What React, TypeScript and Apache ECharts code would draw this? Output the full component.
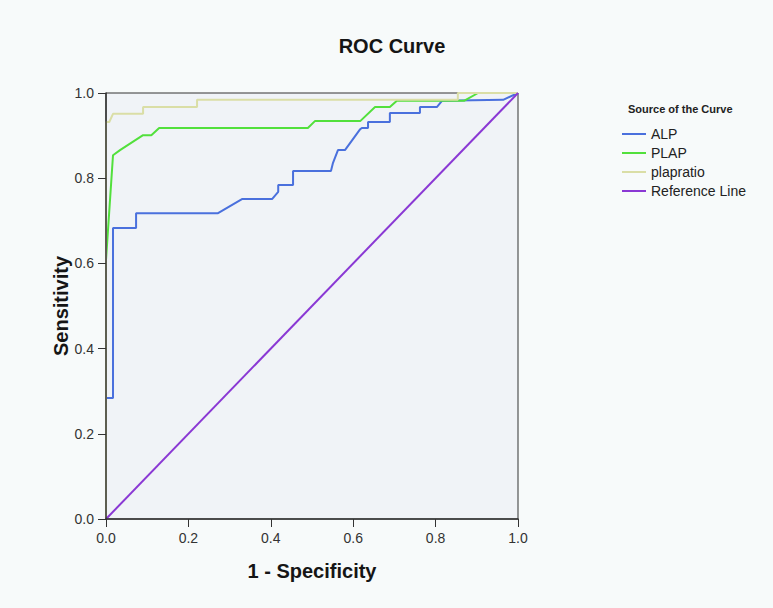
import React, { useEffect, useRef } from "react";
import * as echarts from "echarts";

const seriesNames = ["ALP", "PLAP", "plapratio", "Reference Line"];
const seriesColors = ["#4a70dd", "#52e03c", "#dadea6", "#8a38d4"];

const alp = [
  [0, 0], [0, 0.284], [0.017, 0.284], [0.017, 0.683], [0.073, 0.683], [0.073, 0.718],
  [0.272, 0.718], [0.33, 0.751], [0.403, 0.751], [0.418, 0.768], [0.418, 0.784],
  [0.454, 0.784], [0.454, 0.817], [0.546, 0.817], [0.551, 0.836], [0.563, 0.866],
  [0.58, 0.866], [0.617, 0.915], [0.621, 0.918], [0.636, 0.918], [0.636, 0.932],
  [0.689, 0.932], [0.689, 0.953], [0.762, 0.953], [0.762, 0.967], [0.803, 0.967],
  [0.816, 0.982], [0.964, 0.984], [1, 1],
];
const plap = [
  [0, 0], [0, 0.608], [0.017, 0.854], [0.034, 0.866], [0.09, 0.901], [0.11, 0.901],
  [0.129, 0.918], [0.49, 0.918], [0.507, 0.934], [0.617, 0.934], [0.653, 0.967],
  [0.689, 0.967], [0.706, 0.982], [0.87, 0.982], [0.903, 1], [1, 1],
];
const plapratio = [
  [0, 0], [0, 0.932], [0.008, 0.932], [0.017, 0.951], [0.09, 0.951], [0.09, 0.967],
  [0.221, 0.967], [0.221, 0.984], [0.854, 0.984], [0.854, 1], [1, 1],
];
const reference = [[0, 0], [1, 1]];

const FONT = "Arial, 'Liberation Sans', sans-serif";

export default function App() {
  const ref = useRef<HTMLDivElement>(null);
  useEffect(() => {
    const chart = echarts.init(ref.current!, null, { renderer: "svg" });
    const datas = [alp, plap, plapratio, reference];
    const axisCommon = {
      type: "value",
      min: 0,
      max: 1,
      interval: 0.2,
      nameLocation: "middle",
      nameMoveOverlap: false,
      nameTextStyle: { fontFamily: FONT, fontSize: 20, fontWeight: "bold", color: "#151515" },
      axisLine: { show: true, lineStyle: { color: "#333", width: 1.5 } },
      axisTick: { show: true, length: 8, lineStyle: { color: "#333" } },
      splitLine: { show: false },
      z: 10,
    };
    chart.setOption({
      animation: false,
      backgroundColor: "#f7fafa",
      textStyle: { fontFamily: FONT },
      title: [
        {
          text: "ROC Curve",
          left: 387,
          top: 31,
          textAlign: "center",
          textStyle: { fontFamily: FONT, fontSize: 20, fontWeight: "bold", color: "#151515" },
        },
        {
          text: "Source of the Curve",
          left: 623,
          top: 98,
          textStyle: { fontFamily: FONT, fontSize: 11, fontWeight: "bold", color: "#222" },
        },
      ],
      legend: {
        orient: "vertical",
        left: 617,
        top: 122,
        itemWidth: 24,
        itemHeight: 2,
        itemGap: 5,
        icon: "rect",
        data: seriesNames,
        textStyle: { fontFamily: FONT, fontSize: 14, color: "#222" },
      },
      grid: {
        left: 106,
        top: 93,
        right: 255,
        bottom: 89,
        show: true,
        backgroundColor: "#f0f3f7",
        borderColor: "#333",
        borderWidth: 1,
      },
      xAxis: {
        ...axisCommon,
        name: "1 - Specificity",
        nameGap: 42,
        axisLabel: {
          margin: 12,
          fontSize: 14,
          color: "#333",
          fontFamily: FONT,
          formatter: (v: number) => v.toFixed(1),
        },
      },
      yAxis: {
        ...axisCommon,
        name: "Sensitivity",
        nameGap: 35,
        axisLabel: {
          margin: 12,
          fontSize: 14,
          color: "#333",
          fontFamily: FONT,
          formatter: (v: number) => v.toFixed(1),
        },
      },
      series: seriesNames.map((name, i) => ({
        name,
        type: "line",
        data: datas[i],
        showSymbol: false,
        symbol: "none",
        color: seriesColors[i],
        lineStyle: { color: seriesColors[i], width: 2 },
        z: 2 + i,
      })),
    });
    return () => chart.dispose();
  }, []);
  return (
    <div
      ref={ref}
      style={{ position: "fixed", left: 0, top: 0, width: 773, height: 608 }}
    />
  );
}
